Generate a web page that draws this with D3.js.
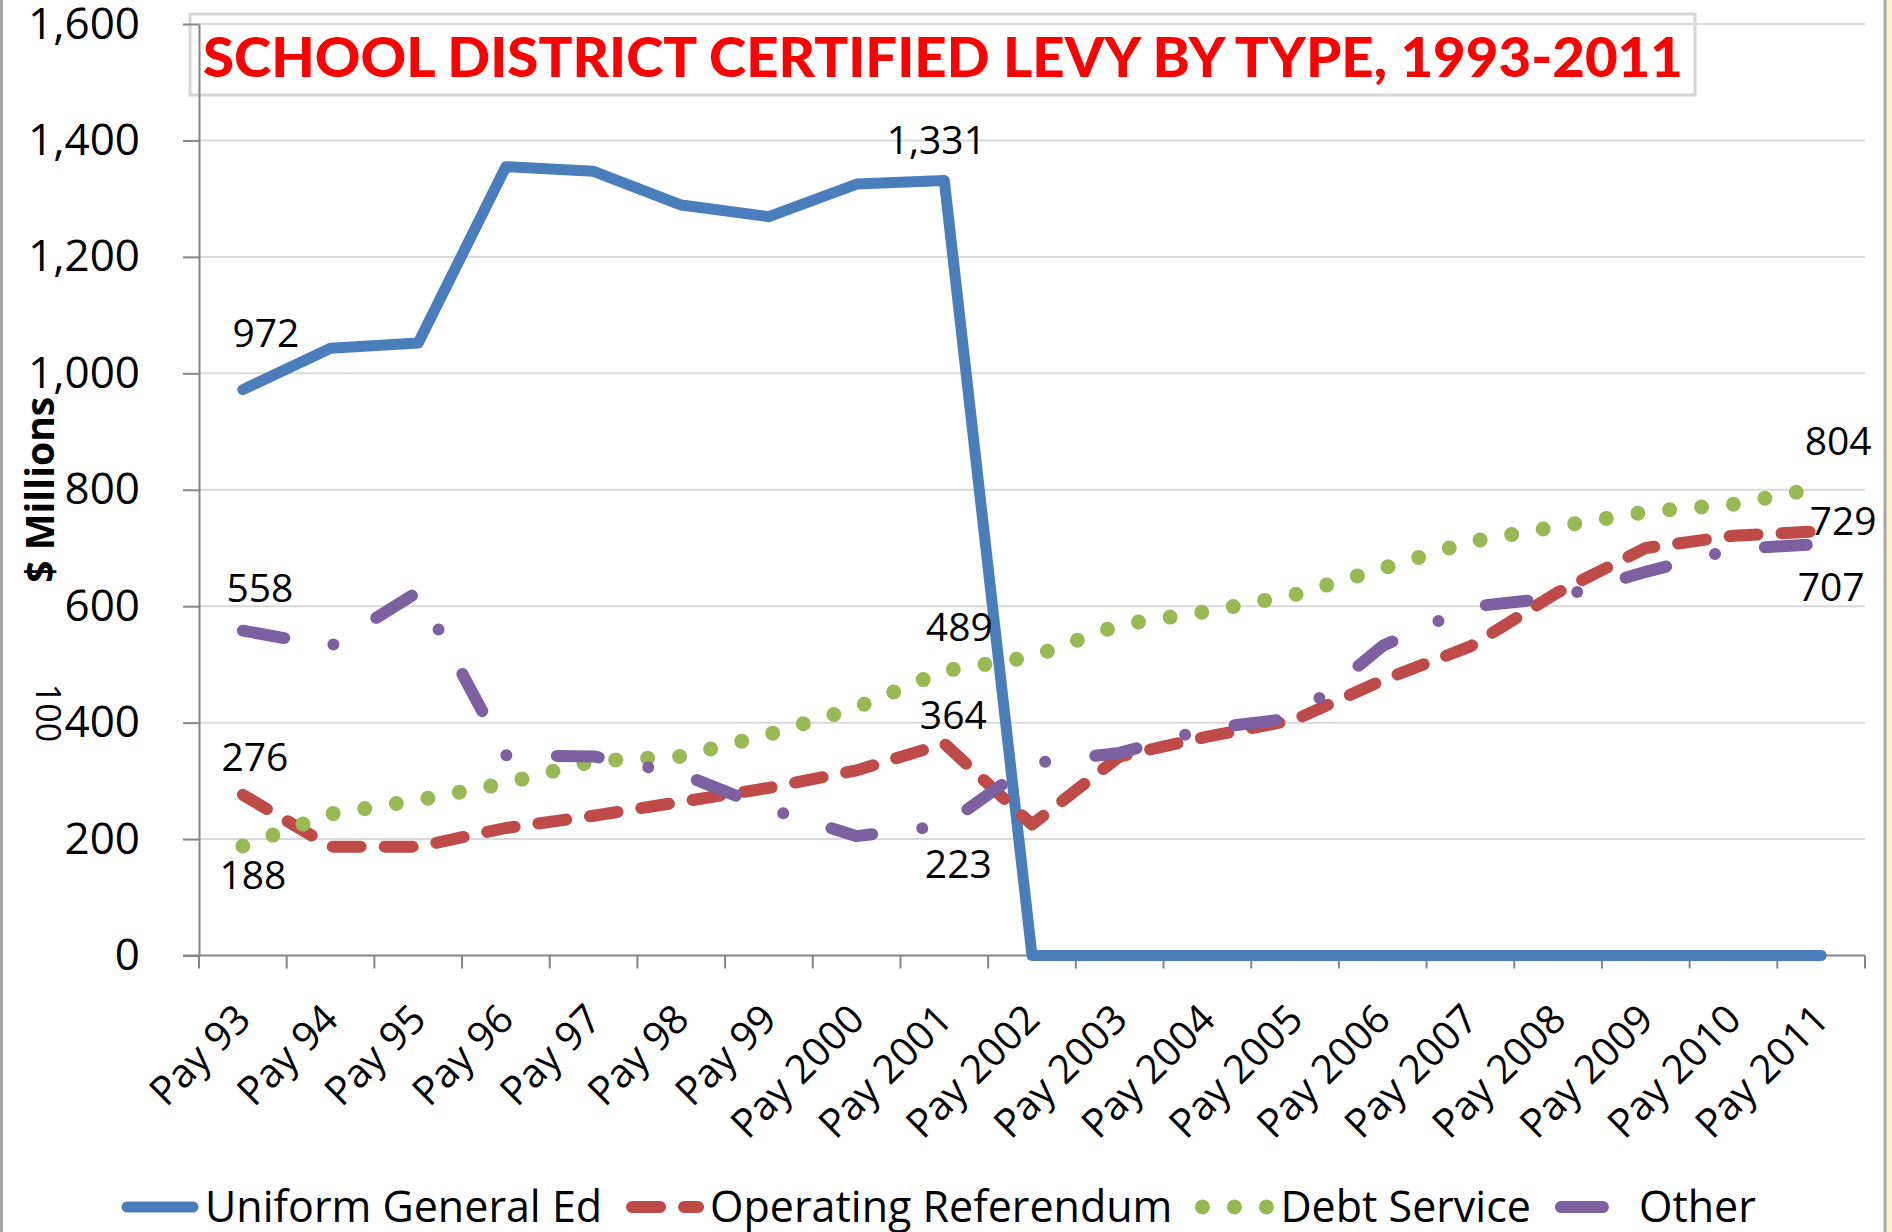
<!DOCTYPE html>
<meta charset="utf-8">
<style>
body {
    margin: 0;
    background: #fff;
}
svg text {
    font-family: "Open Sans", sans-serif;
    fill: #000;
}
.grid line {
    stroke: #d9d9d9;
    stroke-width: 2px;
}
.axis path, .axis line {
    stroke: #868686;
    stroke-width: 2px;
}
.series path {
    fill: none;
    stroke-linecap: round;
    stroke-linejoin: round;
}
</style>

<svg id="chart" width="1892" height="1232"></svg>

<script src="https://d3js.org/d3.v7.min.js"></script>
<script>
    var categories = ["Pay 93", "Pay 94", "Pay 95", "Pay 96", "Pay 97", "Pay 98", "Pay 99",
                      "Pay 2000", "Pay 2001", "Pay 2002", "Pay 2003", "Pay 2004", "Pay 2005",
                      "Pay 2006", "Pay 2007", "Pay 2008", "Pay 2009", "Pay 2010", "Pay 2011"];

    var uniformGeneralEd    = [972, 1043, 1052, 1355, 1347, 1289, 1269, 1325, 1331, 0, 0, 0, 0, 0, 0, 0, 0, 0, 0];
    var operatingReferendum = [276, 187, 187, 219, 240, 264, 288, 318, 364, 225, 342, 376, 405, 473, 531, 624, 700, 721, 729];
    var debtService         = [188, 243, 267, 296, 334, 342, 380, 426, 489, 513, 568, 591, 620, 665, 711, 737, 762, 775, 804];
    var other               = [558, 531, 625, 344, 342, 312, 252, 205, 223, 330, 348, 390, 408, 532, 599, 615, 659, 698, 707];

    var yTicks = [0, 200, 400, 600, 800, 1000, 1200, 1400, 1600];

    var svg = d3.select("#chart"),
        width  = +svg.attr("width"),
        height = +svg.attr("height");

    var plotLeft = 199, plotRight = 1865, plotTop = 24, plotBottom = 955.5;

    var x = d3.scaleBand()
              .domain(categories)
              .range([plotLeft, plotRight]);
    var y = d3.scaleLinear()
              .domain([0, 1600])
              .range([plotBottom, plotTop]);
    var cx = function(i) { return x(categories[i]) + x.bandwidth() / 2; };

    var series = [
        {name: "Uniform General Ed", values: uniformGeneralEd, color: "#4a7ebb", width: 11, dash: null},
        {name: "Operating Referendum", values: operatingReferendum, color: "#be4b48", width: 12, dash: "28,24"},
        {name: "Debt Service", values: debtService, color: "#98b954", width: 15, dash: "0,32"},
        {name: "Other", values: other, color: "#7d60a0", width: 12, dash: "42,50.5,0,50.5"}
    ];

    // which points carry a value label, and where the label sits relative to the point
    var pointLabels = [
        {s: 0, i: 0, dx: 23, dy: -43},
        {s: 0, i: 8, dx: -8, dy: -27},
        {s: 1, i: 0, dx: 12, dy: -24},
        {s: 1, i: 8, dx: 9, dy: -15},
        {s: 1, i: 18, dx: 22, dy: 4},
        {s: 2, i: 0, dx: 10, dy: 43},
        {s: 2, i: 8, dx: 15, dy: -30},
        {s: 2, i: 18, dx: 17, dy: -32},
        {s: 3, i: 0, dx: 17, dy: -29},
        {s: 3, i: 8, dx: 14, dy: 52},
        {s: 3, i: 18, dx: 10, dy: 57}
    ];

    // outer frame
    svg.append("line")
       .attr("x1", 1.5).attr("x2", 1.5).attr("y1", 0).attr("y2", height)
       .attr("stroke", "#a6a6a6").attr("stroke-width", 3);
    svg.append("rect")
       .attr("x", 1886).attr("y", 0).attr("width", 6).attr("height", height)
       .attr("fill", "#f7f1cf");
    svg.append("line")
       .attr("x1", 1885).attr("x2", 1885).attr("y1", 0).attr("y2", height)
       .attr("stroke", "#a6a6a6").attr("stroke-width", 3);

    // gridlines
    svg.append("g")
       .attr("class", "grid")
       .selectAll("line")
       .data(yTicks.filter(function(d) { return d > 0; }))
       .enter().append("line")
       .attr("x1", plotLeft).attr("x2", plotRight)
       .attr("y1", function(d) { return y(d); })
       .attr("y2", function(d) { return y(d); });

    // title box
    svg.append("rect")
       .attr("x", 190).attr("y", 14)
       .attr("width", 1505).attr("height", 81)
       .attr("fill", "none")
       .attr("stroke", "#d6d6d6")
       .attr("stroke-width", 3);
    svg.append("text")
       .attr("x", 203).attr("y", 77)
       .attr("textLength", 1480)
       .attr("lengthAdjust", "spacingAndGlyphs")
       .style("font-family", "Lato, 'Open Sans', sans-serif")
       .style("font-weight", "900")
       .style("font-size", "56px")
       .style("fill", "#ff0000")
       .text("SCHOOL DISTRICT CERTIFIED LEVY BY TYPE, 1993-2011");

    // y axis
    var yAxis = svg.append("g")
       .attr("class", "axis")
       .attr("transform", "translate(" + plotLeft + ",0)")
       .call(d3.axisLeft(y)
               .tickValues(yTicks)
               .tickFormat(d3.format(","))
               .tickSizeInner(16)
               .tickSizeOuter(0)
               .tickPadding(43));
    yAxis.selectAll("text")
         .style("font-size", "44px")
         .style("font-family", "'Open Sans', sans-serif")
         .attr("fill", "#000");

    // x axis: line, ticks on category boundaries, rotated labels
    var xAxis = svg.append("g").attr("class", "axis");
    xAxis.append("line")
         .attr("x1", plotLeft - 16).attr("x2", plotRight)
         .attr("y1", plotBottom).attr("y2", plotBottom);
    xAxis.selectAll("line.tick")
         .data(categories.map(function(c) { return x(c); }).concat([plotRight]))
         .enter().append("line")
         .attr("class", "tick")
         .attr("x1", function(d) { return d; })
         .attr("x2", function(d) { return d; })
         .attr("y1", plotBottom).attr("y2", plotBottom + 13);
    svg.append("g")
       .selectAll("text")
       .data(categories)
       .enter().append("text")
       .attr("transform", function(d, i) {
           return "translate(" + (cx(i) + 10) + "," + (plotBottom + 66) + ") rotate(-45)";
       })
       .attr("text-anchor", "end")
       .style("font-size", "40px")
       .text(function(d) { return d; });

    // axis titles
    svg.append("text")
       .attr("transform", "translate(54," + y(800) + ") rotate(-90)")
       .attr("text-anchor", "middle")
       .style("font-size", "39px")
       .style("font-weight", "bold")
       .text("$ Millions");
    svg.append("text")
       .attr("transform", "translate(36,713) rotate(90)")
       .attr("text-anchor", "middle")
       .style("font-size", "34px")
       .text("100");

    // lines
    var line = d3.line()
                 .x(function(d, i) { return cx(i); })
                 .y(function(d) { return y(d); });

    svg.append("g")
       .attr("class", "series")
       .selectAll("path")
       .data(series)
       .enter().append("path")
       .attr("d", function(d) { return line(d.values); })
       .attr("stroke", function(d) { return d.color; })
       .attr("stroke-width", function(d) { return d.width; })
       .attr("stroke-dasharray", function(d) { return d.dash; });

    // value labels
    var fmt = d3.format(",");
    svg.append("g")
       .selectAll("text")
       .data(pointLabels)
       .enter().append("text")
       .attr("x", function(d) { return cx(d.i) + d.dx; })
       .attr("y", function(d) { return y(series[d.s].values[d.i]) + d.dy; })
       .attr("text-anchor", "middle")
       .style("font-size", "39px")
       .text(function(d) { return fmt(series[d.s].values[d.i]); });

    // legend
    var legend = svg.append("g").attr("class", "series");
    var swatch = 66, legendY = 1207, textGap = 12, itemGap = 30, legendStart = 121;
    var items = legend.selectAll("g")
       .data(series)
       .enter().append("g");
    items.append("path")
         .attr("d", "M6,0H" + (6 + swatch))
         .attr("stroke", function(d) { return d.color; })
         .attr("stroke-width", function(d) { return d.width; })
         .attr("stroke-dasharray", function(d) { return d.dash; });
    items.append("text")
         .attr("x", 6 + swatch + textGap)
         .attr("y", 15)
         .style("font-size", "43px")
         .text(function(d) { return d.name; });

    var pos = legendStart;
    items.attr("transform", function() {
        var t = "translate(" + pos + "," + legendY + ")";
        pos += this.getBBox().width + itemGap;
        return t;
    });
</script>
